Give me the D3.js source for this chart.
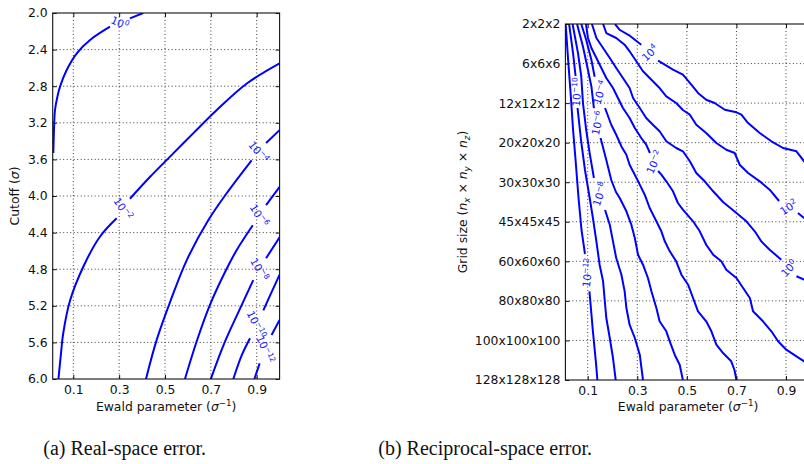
<!DOCTYPE html>
<html><head><meta charset="utf-8">
<script src="https://cdn.jsdelivr.net/npm/d3@7"></script>
<style>
html,body{margin:0;padding:0;background:#fff;overflow:hidden}
svg{display:block}
</style></head><body>
<script>
// ---------- data ----------
const ewaldTicks = [0.1, 0.3, 0.5, 0.7, 0.9];
const cutoffTicks = [2.0, 2.4, 2.8, 3.2, 3.6, 4.0, 4.4, 4.8, 5.2, 5.6, 6.0];
const gridSizes = ["2x2x2","6x6x6","12x12x12","20x20x20","30x30x30","45x45x45","60x60x60","80x80x80","100x100x100","128x128x128"];

// Real-space error contours: [alpha, cutoff]; each contour = [segment before label, segment after label]
const realLevels = [0, -2, -4, -6, -8, -10, -12];
const real_p0 = [[[0.0128,3.53],[0.016,3.25],[0.020,3.06],[0.030,2.92],[0.042,2.805],[0.071,2.623],[0.115,2.44],[0.173,2.295],[0.26,2.15]],
                 [[0.347,2.058],[0.405,2.0]]];
const real_m2 = [[[0.035,6.0],[0.045,5.75],[0.056,5.50],[0.086,5.14],[0.144,4.77],[0.216,4.445],[0.289,4.244]],
                 [[0.347,4.03],[0.435,3.79],[0.522,3.57],[0.625,3.31],[0.726,3.06],[0.857,2.77],[1.0,2.55]]];
const real_m4 = [[[0.417,6.0],[0.464,5.57],[0.522,5.16],[0.595,4.70],[0.69,4.26],[0.769,3.97],[0.878,3.61]],
                 [[0.941,3.42],[1.0,3.28]]];
const real_m6 = [[[0.587,6.0],[0.638,5.59],[0.696,5.19],[0.762,4.83],[0.813,4.59],[0.883,4.32]],
                 [[0.941,4.10],[1.0,3.90]]];
const real_m8 = [[[0.700,6.0],[0.762,5.59],[0.835,5.19],[0.885,4.92]],
                 [[0.941,4.68],[1.0,4.45]]];
const real_m10 = [[[0.798,6.0],[0.835,5.74],[0.871,5.555]],
                  [[0.929,5.25],[0.965,5.05],[1.0,4.86]]];
const real_m12 = [[[0.890,6.0],[0.913,5.83]],
                  [[0.965,5.52],[1.0,5.355]]];
const realContours = [real_p0, real_m2, real_m4, real_m6, real_m8, real_m10, real_m12];

// Reciprocal-space error contours: [alpha, grid index]
const recipLevels = [4, 2, 0, -2, -4, -6, -8, -10, -12];
const recip_p4 = [[[0.210,0],[0.230,0.152],[0.271,0.303],[0.316,0.523]],
  [[0.384,0.928],[0.444,1.155],[0.484,1.282],[0.518,1.534],[0.545,1.744],[0.578,1.914],[0.612,1.997],[0.653,2.167],[0.700,2.232],[0.720,2.293],[0.747,2.503],[0.794,2.756],[0.841,2.965],[0.888,3.135],[0.942,3.218],[0.973,3.471],[1.001,3.716]]];
const recip_p2 = [[[0.162,0],[0.175,0.228],[0.215,0.354],[0.249,0.523],[0.269,0.690],[0.296,0.943],[0.323,1.196],[0.350,1.365],[0.390,1.618],[0.417,1.829],[0.457,1.997],[0.484,2.174],[0.512,2.293],[0.538,2.546],[0.578,2.756],[0.619,3.008],[0.659,3.178],[0.693,3.261],[0.713,3.557],[0.747,3.767],[0.794,3.977],[0.834,4.189],[0.872,4.475]],
  [[0.948,4.779],[0.973,4.905],[1.001,5.082]]];
const recip_p0 = [[[0.117,0],[0.135,0.354],[0.162,0.607],[0.189,0.860],[0.215,1.112],[0.242,1.365],[0.269,1.618],[0.283,1.871],[0.310,2.123],[0.336,2.376],[0.363,2.546],[0.390,2.713],[0.417,2.965],[0.457,3.135],[0.484,3.218],[0.512,3.471],[0.538,3.767],[0.572,3.977],[0.606,4.229],[0.646,4.500],[0.700,4.778],[0.740,4.988],[0.774,5.241],[0.800,5.494],[0.834,5.706],[0.881,5.959]],
  [[0.942,6.378],[0.973,6.464],[1.001,6.548]]];
const recip_m2 = [[[0.093,0],[0.101,0.354],[0.115,0.607],[0.135,0.860],[0.155,1.112],[0.175,1.365],[0.202,1.618],[0.222,1.871],[0.242,2.123],[0.269,2.376],[0.290,2.629],[0.316,2.882],[0.336,3.051],[0.351,3.261]],
  [[0.384,3.716],[0.397,3.810],[0.417,3.977],[0.444,4.229],[0.464,4.525],[0.484,4.695],[0.525,4.988],[0.552,5.241],[0.578,5.580],[0.606,5.832],[0.639,5.999],[0.659,6.211],[0.700,6.421],[0.727,6.674],[0.754,6.927],[0.767,7.263],[0.807,7.516],[0.841,7.769],[0.868,8.022],[0.901,8.234],[0.942,8.401],[0.973,8.527],[1.001,8.646]]];
const recip_m4 = [[[0.074,0],[0.094,0.405],[0.115,0.910],[0.128,1.332]],
  [[0.170,2.124],[0.195,2.547],[0.215,2.800],[0.236,3.094],[0.256,3.306],[0.269,3.557],[0.290,3.810],[0.310,4.062],[0.330,4.315],[0.350,4.652],[0.377,4.988],[0.397,5.241],[0.411,5.494],[0.431,5.747],[0.457,5.999],[0.478,6.338],[0.505,6.591],[0.525,6.927],[0.545,7.263],[0.578,7.516],[0.599,7.769],[0.619,8.108],[0.646,8.318],[0.679,8.527],[0.692,8.747],[0.700,9.0]]];
const recip_m6 = [[[0.057,0],[0.081,0.574],[0.101,1.163],[0.115,1.585],[0.125,2.124]],
  [[0.152,2.882],[0.175,3.438],[0.195,3.944],[0.214,4.247],[0.229,4.399],[0.256,4.735],[0.276,5.074],[0.290,5.410],[0.303,5.832],[0.323,6.085],[0.343,6.421],[0.357,6.758],[0.377,7.180],[0.390,7.516],[0.417,7.769],[0.431,8.022],[0.451,8.360],[0.471,8.613],[0.484,9.0]]];
const recip_m8 = [[[0.039,0],[0.061,0.741],[0.074,1.333],[0.081,2.006],[0.094,2.680],[0.108,3.269],[0.125,3.893]],
  [[0.170,4.702],[0.189,5.074],[0.202,5.494],[0.215,5.916],[0.236,6.338],[0.249,6.758],[0.256,7.180],[0.269,7.602],[0.290,7.938],[0.310,8.360],[0.323,9.0]]];
const recip_m10 = [[[0.025,0],[0.041,0.741],[0.051,1.315]],
  [[0.059,2.124],[0.073,2.933],[0.089,3.691],[0.108,4.399],[0.121,4.904],[0.135,5.494],[0.148,6.085],[0.162,6.505],[0.169,7.010],[0.175,7.433],[0.189,7.938],[0.202,8.444],[0.213,9.0]]];
const recip_m12 = [[[0.011,0],[0.021,0.910],[0.031,1.744],[0.041,2.680],[0.051,3.438],[0.063,4.399],[0.075,5.208],[0.089,5.815]],
  [[0.107,6.758],[0.121,7.769],[0.134,8.613],[0.139,9.0]]];
const recipContours = [recip_p4, recip_p2, recip_p0, recip_m2, recip_m4, recip_m6, recip_m8, recip_m10, recip_m12];

// ---------- drawing ----------
const W = 804, H = 464;
const BLUE = "#0000ff";
const FONT = "DejaVu Sans, sans-serif";
const svg = d3.select("body").append("svg").attr("width", W).attr("height", H);

const xL = d3.scaleLinear([0.01, 1.0], [52.7, 279.6]);
const yL = d3.scaleLinear([2.0, 6.0], [13, 379]);
const xR = d3.scaleLinear([0.01, 1.0], [565.4, 810.8]);
const yR = d3.scaleLinear([0, gridSizes.length - 1], [24, 380]);

function expText(l) { return l < 0 ? "\u2212" + (-l) : String(l); }

function panel(id, x, y, yTickVals, yTickFmt, contours, levels, smooth) {
  const [x0, x1] = x.range(), [y0, y1] = y.range();
  const g = svg.append("g");
  svg.append("clipPath").attr("id", id).append("rect")
    .attr("x", x0).attr("y", y0).attr("width", x1 - x0).attr("height", y1 - y0);

  // grid
  const grid = g.append("g").attr("stroke", "#000").attr("stroke-width", 0.9)
    .attr("stroke-dasharray", "1,2.5").attr("opacity", 0.85);
  grid.selectAll(".gx").data(ewaldTicks).join("line")
    .attr("x1", d => x(d)).attr("x2", d => x(d)).attr("y1", y0).attr("y2", y1);
  grid.selectAll(".gy").data(yTickVals.filter(d => y(d) > y0 + 1 && y(d) < y1 - 1)).join("line")
    .attr("x1", x0).attr("x2", x1).attr("y1", d => y(d)).attr("y2", d => y(d));

  // contours
  const line = d3.line().x(d => x(d[0])).y(d => y(d[1]))
    .curve(smooth ? d3.curveCatmullRom.alpha(0.5) : d3.curveLinear);
  const cg = g.append("g").attr("clip-path", `url(#${id})`);
  contours.forEach((c, k) => {
    c.forEach(seg => {
      cg.append("path").attr("d", line(seg)).attr("fill", "none")
        .attr("stroke", BLUE).attr("stroke-width", 2).attr("stroke-linejoin", "round");
    });
    const a = c[0][c[0].length - 1], b = c[1][0];
    const ax = x(a[0]), ay = y(a[1]), bx = x(b[0]), by = y(b[1]);
    const mx = (ax + bx) / 2, my = (ay + by) / 2;
    let ang = -Math.atan2(by - ay, bx - ax) * 180 / Math.PI;
    if (ang > 90) ang -= 180;
    if (ang < -90) ang += 180;
    const t = g.append("text").attr("transform", `translate(${mx},${my}) rotate(${ang})`)
      .attr("text-anchor", "middle").attr("font-family", FONT).attr("font-size", 10.5)
      .attr("fill", "#1414ff");
    t.append("tspan").attr("dy", "0.4em").text("10");
    t.append("tspan").attr("dy", "-0.55em").attr("font-size", 7.5).text(expText(levels[k]));
  });

  // frame
  g.append("rect").attr("x", x0).attr("y", y0).attr("width", x1 - x0).attr("height", y1 - y0)
    .attr("fill", "none").attr("stroke", "#111").attr("stroke-width", 1.1);

  // axes
  const ax = g.append("g").attr("transform", `translate(0,${y1})`)
    .call(d3.axisBottom(x).tickValues(ewaldTicks).tickFormat(d3.format(".1f")).tickSizeInner(-4).tickSizeOuter(0).tickPadding(6));
  const axT = g.append("g").attr("transform", `translate(0,${y0})`)
    .call(d3.axisTop(x).tickValues(ewaldTicks).tickFormat("").tickSizeInner(-4).tickSizeOuter(0));
  const ay = g.append("g").attr("transform", `translate(${x0},0)`)
    .call(d3.axisLeft(y).tickValues(yTickVals).tickFormat(yTickFmt).tickSizeInner(-4).tickSizeOuter(0).tickPadding(5));
  const ayR = g.append("g").attr("transform", `translate(${x1},0)`)
    .call(d3.axisRight(y).tickValues(yTickVals).tickFormat("").tickSizeInner(-4).tickSizeOuter(0));
  [ax, axT, ay, ayR].forEach(a => {
    a.select(".domain").remove();
    a.selectAll("line").attr("stroke", "#111");
    a.selectAll("text").attr("font-family", FONT).attr("font-size", 12.4).attr("fill", "#111");
  });

  // x label
  const xl = g.append("text").attr("x", (x0 + x1) / 2).attr("y", 411)
    .attr("text-anchor", "middle").attr("font-family", FONT).attr("font-size", 12.4).attr("fill", "#111");
  xl.append("tspan").text("Ewald parameter (");
  xl.append("tspan").attr("font-style", "italic").text("σ");
  xl.append("tspan").attr("dy", -5).attr("font-size", 8.7).text("\u22121");
  xl.append("tspan").attr("dy", 5).text(")");
  return g;
}

panel("clipL", xL, yL, cutoffTicks, d3.format(".1f"), realContours, realLevels, true);
panel("clipR", xR, yR, d3.range(gridSizes.length), i => gridSizes[i], recipContours, recipLevels, false);

// y labels
const yl1 = svg.append("text").attr("transform", "translate(19,196) rotate(-90)")
  .attr("text-anchor", "middle").attr("font-family", FONT).attr("font-size", 12.4).attr("fill", "#111");
yl1.append("tspan").text("Cutoff (");
yl1.append("tspan").attr("font-style", "italic").text("σ");
yl1.append("tspan").text(")");

const yl2 = svg.append("text").attr("transform", "translate(467,202) rotate(-90)")
  .attr("text-anchor", "middle").attr("font-family", FONT).attr("font-size", 12.4).attr("fill", "#111");
yl2.append("tspan").text("Grid size (");
["x", "y", "z"].forEach((s, i) => {
  yl2.append("tspan").attr("font-style", "italic").text("n");
  yl2.append("tspan").attr("dy", 2.5).attr("font-size", 8.7).attr("font-style", "italic").text(s);
  yl2.append("tspan").attr("dy", -2.5).text(i < 2 ? " × " : ")");
});

// captions
const capFont = "Liberation Serif, Times New Roman, serif";
svg.append("text").attr("x", 43.3).attr("y", 455).attr("font-family", capFont).attr("font-size", 20)
  .attr("fill", "#111").text("(a) Real-space error.");
svg.append("text").attr("x", 378.3).attr("y", 455).attr("font-family", capFont).attr("font-size", 20)
  .attr("fill", "#111").text("(b) Reciprocal-space error.");
</script>
</body></html>
